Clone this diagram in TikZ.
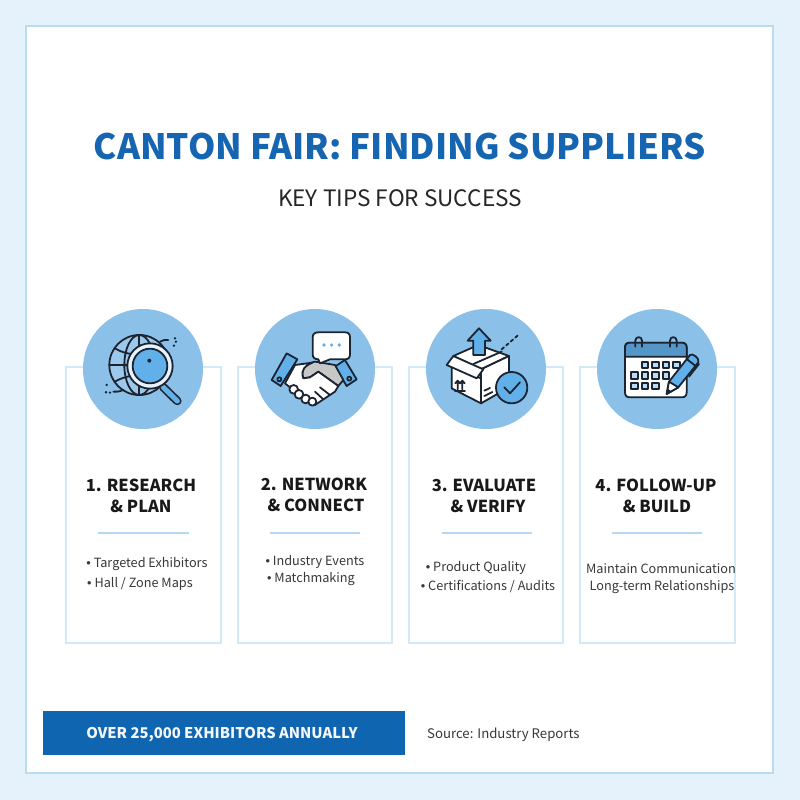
\documentclass[tikz,border=0pt]{standalone}
\usepackage{fontspec}
\setmainfont{Noto Sans CJK SC}
\newfontfamily\bulletfont{Liberation Sans}
\newcommand{\dotmark}{{\bulletfont •}}
\definecolor{pagebg}{HTML}{E6F2FB}
\definecolor{framecol}{HTML}{B9DCF5}
\definecolor{cardcol}{HTML}{D2E9F8}
\definecolor{discol}{HTML}{8BC0E8}
\definecolor{titlecol}{HTML}{1565B0}
\definecolor{barcol}{HTML}{0F65AF}
\definecolor{inkcol}{HTML}{1B2430}
\definecolor{iconblue}{HTML}{62B0EA}
\definecolor{rulecol}{HTML}{B5D9F2}
\tikzset{
  card/.style={draw=cardcol, line width=1.1pt, fill=white},
  disc/.style={circle, fill=discol, minimum size=120pt, inner sep=0pt},
  head/.style={font=\bfseries\fontsize{16.5}{20}\selectfont, text=black!90, inner sep=0pt},
  item/.style={font=\fontsize{12.7}{16}\selectfont, text=black!78, inner sep=0pt},
  sep/.style={draw=rulecol, line width=1.2pt},
  ink/.style={draw=inkcol, line width=1.8pt, line join=round, line cap=round},
  zoomed/.style={x=0.3333pt, y=-0.3333pt}
}
\begin{document}
\begin{tikzpicture}[x=1pt, y=-1pt]
\useasboundingbox (0,0) rectangle (800,800);
\fill[pagebg] (0,0) rectangle (800,800);
\draw[draw=framecol, line width=1.3pt, fill=white] (26,26) rectangle (773,773);
\node[font=\bfseries\fontsize{34.9}{40}\selectfont, text=titlecol, inner sep=0pt] (title) at (400,147) {CANTON FAIR: FINDING SUPPLIERS};
\node[font=\fontsize{22.6}{28}\selectfont, text=black!85, inner sep=0pt] (subtitle) at (400,198) {KEY TIPS FOR SUCCESS};
% cards
\draw[card] (66,367) rectangle (221,643);
\draw[card] (238,367) rectangle (392,643);
\draw[card] (409,367) rectangle (563,643);
\draw[card] (580,367) rectangle (735,643);
\node[disc] (disc1) at (143,369) {};
\node[disc] (disc2) at (315,369) {};
\node[disc] (disc3) at (486,369) {};
\node[disc] (disc4) at (657,369) {};
% globe and lens
\begin{scope}[shift={(60,300)}, zoomed]
\draw[ink, fill=discol!85!white] (238,195) circle (90);
\draw[ink] (238,195) ellipse (45 and 90);
\draw[ink] (238,105) -- (238,285);
\draw[ink] (148,195) -- (328,195);
\draw[ink] (165,145) .. controls (205,170) and (270,170) .. (312,145);
\draw[ink] (165,245) .. controls (205,220) and (270,220) .. (312,245);
\draw[ink] (300,125) .. controls (308,120) and (316,119) .. (325,120);
\draw[ink] (190,270) .. controls (180,275) and (170,276) .. (160,275);
\fill[inkcol] (345,115) circle (4) (342,137) circle (4) (348,125) circle (4);
\fill[inkcol] (140,255) circle (4) (138,277) circle (4) (150,278) circle (4);
\draw[draw=inkcol, line width=8.5pt, line cap=round] (310,262) -- (352,303);
\draw[draw=iconblue, line width=5.2pt, line cap=round] (310,262) -- (352,303);
\draw[ink, fill=white!85!iconblue] (270,198) circle (68);
\draw[ink, fill=iconblue] (270,198) circle (52);
\fill[inkcol] (268,182) circle (6);
\end{scope}
% handshake and bubble
\begin{scope}[shift={(235,300)}, zoomed]
\draw[ink, fill=iconblue] (155,160) -- (187,178) -- (137,258) -- (110,240) -- cycle;
\draw[ink, fill=iconblue] (330,180) -- (365,238) -- (335,258) -- (300,200) -- cycle;
\draw[ink] (133,238) circle (6);
\draw[ink] (343,236) circle (6);
\draw[ink, fill=black!22] (205,235) .. controls (195,205) and (215,190) .. (240,185) -- (300,195) -- (325,240) -- (310,258) -- (250,215) -- (225,232) -- cycle;
\draw[ink, fill=white] (180,195) -- (232,188) .. controls (212,195) and (195,210) .. (205,235) -- (225,232) -- (250,215) -- (310,258) -- (300,275) -- (240,315) -- (225,310) -- (150,250) -- cycle;
\draw[ink, fill=white] (176,268) circle (13);
\draw[ink, fill=white] (192,283) circle (13);
\draw[ink, fill=white] (212,297) circle (13);
\draw[ink, fill=white] (232,305) circle (12);
\draw[ink] (255,262) -- (285,285);
\draw[ink] (240,275) -- (265,298);
\draw[ink, fill=white] (250,97) -- (330,97) .. controls (340,97) and (345,102) .. (345,112) -- (345,163) .. controls (345,173) and (340,178) .. (330,178) -- (285,178) -- (255,190) -- (250,178) .. controls (240,178) and (233,173) .. (233,163) -- (233,112) .. controls (233,102) and (240,97) .. (250,97) -- cycle;
\fill[iconblue] (267,135) circle (5.5) (290,135) circle (5.5) (313,135) circle (5.5);
\end{scope}
% box, arrow and check
\begin{scope}[shift={(405,300)}, zoomed]
\draw[ink, fill=white] (145,168) -- (220,135) -- (312,168) -- (228,208) -- cycle;
\draw[ink, fill=iconblue] (222,85) -- (257,122) -- (240,122) -- (240,165) -- (205,165) -- (205,122) -- (188,122) -- cycle;
\draw[ink, fill=white] (140,200) -- (228,235) -- (228,310) -- (140,265) -- cycle;
\draw[ink, fill=white] (228,208) -- (312,168) -- (312,262) -- (228,310) -- cycle;
\draw[ink, fill=white] (125,195) -- (145,168) -- (235,208) -- (215,235) -- cycle;
\draw[ink] (205,192) -- (290,155);
\draw[ink, dashed] (290,148) -- (340,105);
\draw[ink] (158,268) -- (158,242) (151,250) -- (158,242) -- (165,250);
\draw[ink] (172,268) -- (172,242) (165,250) -- (172,242) -- (179,250);
\draw[ink] (150,272) -- (180,272);
\draw[ink] (238,272) -- (255,264);
\draw[ink] (238,288) -- (262,276);
\draw[ink, fill=iconblue] (320,263) circle (47);
\draw[ink] (298,262) -- (315,280) -- (345,247);
\end{scope}
% calendar and pencil
\begin{scope}[shift={(575,300)}, zoomed]
\draw[ink, fill=white] (165,128) -- (320,128) .. controls (330,128) and (335,133) .. (335,143) -- (335,277) .. controls (335,287) and (330,292) .. (320,292) -- (165,292) .. controls (155,292) and (150,287) .. (150,277) -- (150,143) .. controls (150,133) and (155,128) .. (165,128) -- cycle;
\draw[ink, fill=iconblue!85!black] (165,128) -- (320,128) .. controls (330,128) and (335,133) .. (335,143) -- (335,170) -- (150,170) -- (150,143) .. controls (150,133) and (155,128) .. (165,128) -- cycle;
\draw[ink] (181,140) -- (181,122) .. controls (181,108) and (201,108) .. (201,122) -- (201,140);
\draw[ink] (285,140) -- (285,122) .. controls (285,108) and (305,108) .. (305,122) -- (305,140);
\draw[ink, fill=iconblue!45] (200,185) rectangle (220,205);
\draw[ink, fill=iconblue!45] (231,185) rectangle (251,205);
\draw[ink, fill=iconblue!45] (263,185) rectangle (283,205);
\draw[ink, fill=iconblue!45] (295,185) rectangle (315,205);
\draw[ink, fill=iconblue!45] (168,217) rectangle (188,237);
\draw[ink, fill=iconblue!45] (200,217) rectangle (220,237);
\draw[ink, fill=iconblue!45] (231,217) rectangle (251,237);
\draw[ink, fill=iconblue!45] (263,217) rectangle (283,237);
\draw[ink, fill=iconblue!45] (168,248) rectangle (188,268);
\draw[ink, fill=iconblue!45] (200,248) rectangle (220,268);
\draw[ink, fill=iconblue!45] (231,248) rectangle (251,268);
\draw[ink, fill=iconblue] (275,282) -- (282,245) -- (345,165) .. controls (352,158) and (375,175) .. (370,187) -- (310,262) -- cycle;
\draw[ink, fill=white] (275,282) -- (282,245) -- (310,262) -- cycle;
\fill[inkcol] (275,282) -- (278,265) -- (288,274) -- cycle;
\draw[ink] (335,177) -- (362,198);
\draw[ink] (342,230) -- (372,192);
\end{scope}
% step texts
\node[head] (headA1) at (141,485) {1. RESEARCH};
\node[head] (headA2) at (141,506) {\& PLAN};
\node[head] (headB1) at (314,484) {2. NETWORK};
\node[head] (headB2) at (316,505) {\& CONNECT};
\node[head] (headC1) at (484,485) {3. EVALUATE};
\node[head] (headC2) at (488,506) {\& VERIFY};
\node[head] (headD1) at (656,485) {4. FOLLOW-UP};
\node[head] (headD2) at (657,506) {\& BUILD};
\draw[sep] (98,533) -- (189,533);
\draw[sep] (270,533) -- (360,533);
\draw[sep] (442,533) -- (532,533);
\draw[sep] (612,533) -- (702,533);
\node[item] (itemA1) at (147,564.5) {\dotmark\ Targeted Exhibitors};
\node[item] (itemA2) at (140,583.5) {\dotmark\ Hall / Zone Maps};
\node[item] (itemB1) at (315,561.5) {\dotmark\ Industry Events};
\node[item] (itemB2) at (311,579.5) {\dotmark\ Matchmaking};
\node[item] (itemC1) at (476,567.5) {\dotmark\ Product Quality};
\node[item] (itemC2) at (488,586.5) {\dotmark\ Certifications / Audits};
\node[item] (itemD1) at (661,568.5) {Maintain Communication};
\node[item] (itemD2) at (662,587.5) {Long-term Relationships};
% footer
\fill[barcol] (43,711) rectangle (405,755);
\node[text=white!95!barcol, font=\bfseries\fontsize{14.8}{18}\selectfont, inner sep=0pt] (bar) at (222,734.5) {OVER 25,000 EXHIBITORS ANNUALLY};
\node[item, font=\fontsize{13.2}{16}\selectfont, anchor=west] (source) at (427,734.5) {Source: Industry Reports};
\end{tikzpicture}
\end{document}
